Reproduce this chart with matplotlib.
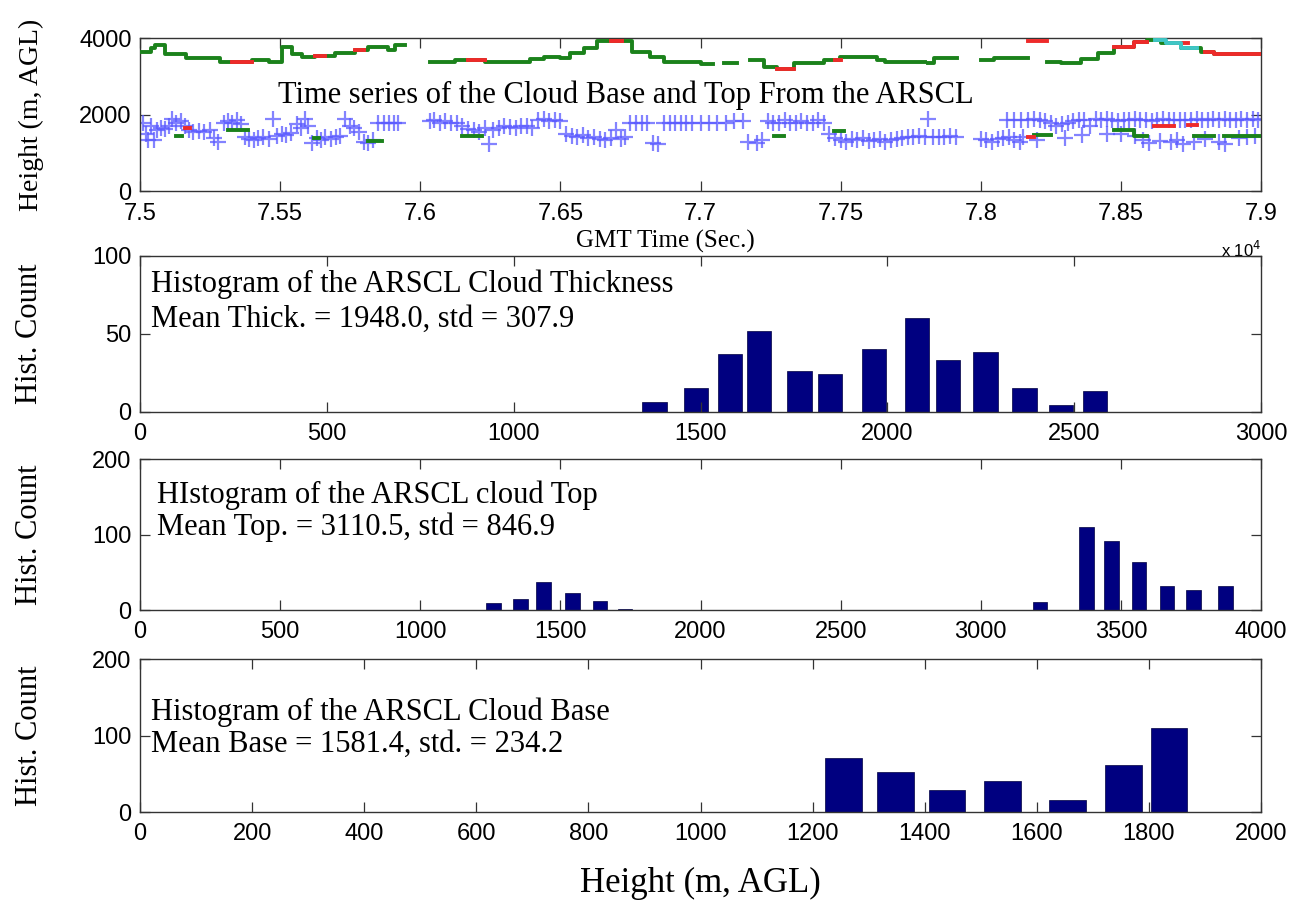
import numpy as np
import matplotlib
matplotlib.use("Agg")
import matplotlib.pyplot as plt
from matplotlib.ticker import FuncFormatter

nan = np.nan

# --------------------------------------
# DATA
# --------------------------------------
# cloud top (green steps), NaN closes a segment
top_t = [75000, 75040, 75055, 75090, 75165, 75285, 75330, 75400, 75460, 75506,
         75541, 75577, 75625, 75696, 75767, 75815, 75886, 75910, 75946,
         76035, 76124, 76231, 76392, 76440, 76500, 76535, 76583, 76630, 76755,
         76821, 76868, 77000, 77045,
         77083, 77130,
         77178, 77225, 77273, 77333, 77440, 77499, 77630, 77660, 77800,
         77810, 77833, 77917,
         78000, 78048, 78167,
         78238, 78286, 78357, 78417, 78476, 78547, 78595, 78643, 78714, 78785,
         78833, 79000]
top_h = [3650, 3740, 3830, 3590, 3480, 3390, 3370, 3435, 3375, 3780,
         3590, 3500, 3550, 3610, 3700, 3780, 3700, 3830, nan,
         3390, 3435, 3390, 3450, 3520, 3480, 3610, 3740, 3920, 3650,
         3520, 3390, 3320, nan,
         3350, nan,
         3435, 3260, 3190, 3350, 3435, 3520, 3435, 3390, nan,
         3350, 3480, nan,
         3435, 3480, nan,
         3390, 3350, 3450, 3610, 3780, 3910, 3960, 3870, 3740, 3650,
         3590, nan]

# red pieces on the cloud top
red_t = [75327, 75400, 75625, 75660, 75767, 75800, 76172, 76231, 76680, 76720,
         77273, 77333, 77480, 77500, 78167, 78238, 78476, 78547, 78595,
         78700, 78740, 78800, 78833, 79000]
red_h = [3370, nan, 3550, nan, 3700, nan, 3435, nan, 3920, nan,
         3190, nan, 3440, nan, 3930, nan, 3780, 3910, nan,
         3870, nan, 3650, 3590, nan]

# cyan pieces on the cloud top
cyan_t = [78620, 78660, 78714, 78770]
cyan_h = [3950, 3870, 3740, nan]

# cloud base (blue +)
base_t = [75010, 75020, 75030, 75040, 75050, 75060, 75075, 75090, 75105, 75115,
          75130, 75145, 75160, 75175, 75190, 75210, 75230, 75250, 75265, 75280,
          75300, 75315, 75330, 75345, 75360, 75375, 75390, 75405, 75420, 75440,
          75460, 75475, 75490, 75505, 75520, 75540, 75560, 75575, 75590, 75600,
          75615, 75630, 75645, 75660, 75680, 75700, 75715, 75730, 75750, 75765,
          75780, 75800, 75815, 75830, 75850, 75870, 75890, 75905, 75920,
          76035, 76050, 76070, 76090, 76110, 76130, 76150, 76170, 76190, 76210,
          76230, 76245, 76260, 76280, 76300, 76320, 76340, 76360, 76380, 76400,
          76420, 76440, 76460, 76480, 76500, 76520, 76540, 76560, 76580, 76600,
          76620, 76640, 76660, 76680, 76700, 76715, 76730, 76750, 76770, 76790,
          76810, 76830, 76850, 76870, 76890, 76910, 76930, 76950, 76970, 77000,
          77030, 77060, 77090, 77120, 77150, 77170, 77200, 77220, 77240, 77260,
          77280, 77300, 77320, 77340, 77360, 77380, 77400, 77420, 77440, 77460,
          77480, 77500, 77520, 77540, 77560, 77580, 77600, 77620, 77640, 77660,
          77680, 77700, 77720, 77740, 77760, 77780, 77800, 77810, 77830, 77850,
          77870, 77890, 77910,
          78000, 78020, 78040, 78060, 78080, 78100, 78120, 78140,
          78095, 78120, 78143, 78170, 78190, 78210, 78230, 78250, 78270, 78290,
          78310, 78330, 78350, 78370, 78390, 78410, 78430, 78450, 78470, 78490,
          78510, 78530, 78550, 78570, 78590, 78610, 78630, 78650, 78670, 78690,
          78710, 78730, 78750, 78770, 78790, 78810, 78830, 78850, 78870, 78890,
          78910, 78930, 78950, 78970, 78990,
          78150, 78200, 78300, 78360, 78450, 78500, 78550, 78580, 78600, 78640,
          78680, 78700, 78720, 78760, 78800, 78850, 78870, 78920, 78950, 78980]
base_h = [1780, 1500, 1350, 1700, 1350, 1600, 1650, 1620, 1700, 1900,
          1800, 1850, 1700, 1600, 1560, 1580, 1550, 1600, 1400, 1300,
          1800, 1850, 1780, 1870, 1750, 1420, 1380, 1350, 1400, 1430,
          1380, 1900, 1450, 1500, 1480, 1520, 1750, 1650, 1900, 1700,
          1260, 1400, 1350, 1430, 1380, 1420, 1450, 1900, 1700, 1650,
          1550, 1300, 1260, 1350, 1780, 1780, 1800, 1780, 1800,
          1850, 1870, 1800, 1830, 1800, 1780, 1700, 1620, 1600, 1560,
          1650, 1250, 1600, 1650, 1700, 1680, 1650, 1700, 1720, 1650,
          1870, 1880, 1850, 1870, 1850, 1500, 1450, 1430, 1470, 1400,
          1420, 1380, 1350, 1400, 1600, 1380, 1420, 1780, 1800, 1780,
          1800, 1270, 1250, 1780, 1780, 1800, 1780, 1780, 1780, 1780,
          1800, 1780, 1780, 1830, 1840, 1300, 1260, 1350, 1850, 1800,
          1780, 1870, 1800, 1780, 1830, 1800, 1780, 1860, 1800, 1500,
          1400, 1350, 1300, 1380, 1350, 1400, 1330, 1350, 1380, 1300,
          1350, 1380, 1400, 1420, 1430, 1450, 1430, 1880, 1420, 1430,
          1430, 1450, 1430,
          1380, 1350, 1300, 1380, 1400, 1430, 1350, 1300,
          1870, 1870, 1870, 1870, 1880, 1870, 1850, 1800, 1700, 1750,
          1800, 1850, 1870, 1860, 1700, 1880, 1870, 1880, 1870, 1850,
          1870, 1870, 1880, 1870, 1870, 1850, 1870, 1880, 1870, 1870,
          1860, 1870, 1870, 1880, 1870, 1870, 1880, 1870, 1880, 1870,
          1870, 1900, 1870, 1880, 1870,
          1430, 1350, 1400, 1480, 1500, 1500, 1450, 1350, 1260, 1320,
          1300, 1350, 1250, 1300, 1380, 1300, 1250, 1400, 1420, 1450]

# lower layer pieces (green) and red pieces near the base
base2_t = [75130, 75150, 75315, 75387, 75620, 75640, 75815, 75863, 76148, 76220,
           77261, 77297, 77475, 77511, 78190, 78250, 78476, 78547, 78595,
           78762, 78833, 78869, 79000]
base2_h = [1440, nan, 1610, nan, 1395, nan, 1305, nan, 1436, nan,
           1436, nan, 1566, nan, 1480, nan, 1610, 1436, nan,
           1453, nan, 1436, nan]
base_red_t = [75160, 75178, 78167, 78190, 78619, 78690, 78738, 78773]
base_red_h = [1650, nan, 1420, nan, 1700, nan, 1740, nan]

# histograms
thick_centers = [1377, 1488, 1579, 1657, 1765, 1846, 1965, 2080, 2163, 2263, 2367, 2464, 2556]
thick_counts = [6, 15, 37, 52, 26, 24, 40, 60, 33, 38, 15, 4, 13]

topc_centers = [1261, 1358, 1440, 1544, 1641, 1730, 3211, 3378, 3467, 3564, 3664, 3759, 3873]
topc_counts = [9, 15, 37, 23, 12, 1, 11, 110, 92, 64, 32, 26, 32]

basec_centers = [1255, 1348, 1440, 1539, 1655, 1755, 1836]
basec_counts = [70, 52, 29, 40, 16, 62, 110]

# --------------------------------------
# STYLE
# --------------------------------------
SERIF = "Liberation Serif"
SANS = "Liberation Sans"
BAR = "#000080"
GREEN = "#1b821b"
RED = "#ee2a2a"
CYAN = "#3fc6c6"
BLUE = "#5a5aff"


def style_axes(ax):
    for sp in ax.spines.values():
        sp.set_linewidth(1.0)
        sp.set_color("#333333")
    ax.tick_params(direction="in", top=True, right=True, length=7,
                   width=0.9, labelsize=17, colors="#333333",
                   labelcolor="black")
    ax.tick_params(axis="x", pad=8)
    ax.tick_params(axis="y", pad=6)
    for lab in ax.get_xticklabels() + ax.get_yticklabels():
        lab.set_fontfamily(SANS)


def add_hist(ax, centers, counts, width, xmax, ymax, yticks, xticks, lines, tx, ty):
    ax.bar(centers, counts, width=width, color=BAR, edgecolor="#000040", linewidth=0.5)
    ax.set_xlim(0, xmax)
    ax.set_ylim(0, ymax)
    ax.set_xticks(xticks)
    ax.set_yticks(yticks)
    ax.set_ylabel("Hist. Count", fontfamily=SERIF, fontsize=22)
    ax.yaxis.set_label_coords(-0.086, 0.5)
    for txt, y in zip(lines, ty):
        ax.text(tx, y, txt, fontfamily=SERIF, fontsize=22, va="center", ha="left")
    style_axes(ax)


# --------------------------------------
# FIGURE
# --------------------------------------
fig = plt.figure(figsize=(13, 9.07), dpi=100)
L, W = 0.1077, 0.8623
ax1 = fig.add_axes([L, 0.7889, W, 0.1689])
ax2 = fig.add_axes([L, 0.5463, W, 0.1715])
ax3 = fig.add_axes([L, 0.3274, W, 0.1665])
ax4 = fig.add_axes([L, 0.1047, W, 0.1687])

# time series panel
ax1.plot(base_t, base_h, "+", color=BLUE, ms=12, mew=1.6, alpha=0.75, zorder=2)
ax1.plot(base2_t, base2_h, drawstyle="steps-post", color=GREEN, lw=2.8, zorder=3)
ax1.plot(base_red_t, base_red_h, drawstyle="steps-post", color=RED, lw=2.8, zorder=3)
ax1.plot(top_t, top_h, drawstyle="steps-post", color=GREEN, lw=2.8, zorder=3)
ax1.plot(red_t, red_h, drawstyle="steps-post", color=RED, lw=2.8, zorder=4)
ax1.plot(cyan_t, cyan_h, drawstyle="steps-post", color=CYAN, lw=2.8, zorder=4)
ax1.set_xlim(75000, 79000)
ax1.set_ylim(0, 4000)
ax1.set_xticks(np.arange(75000, 79001, 500))
ax1.set_yticks([0, 2000, 4000])
ax1.xaxis.set_major_formatter(FuncFormatter(lambda v, p: "%g" % (v / 1e4)))
ax1.set_ylabel("Height (m, AGL)", fontfamily=SERIF, fontsize=20)
ax1.yaxis.set_label_coords(-0.086, 0.5)
ax1.text(75493, 2510, "Time series of the Cloud Base and Top From the ARSCL",
         fontfamily=SERIF, fontsize=22, va="center", ha="left")
# exponent label, partly hidden under the next panel as in the original
ax1.text(1.0, -0.38, r"x 10$^4$", transform=ax1.transAxes, ha="right",
         va="center", fontsize=12, fontfamily=SANS, clip_on=False, zorder=0)
style_axes(ax1)
# x label of the top panel drawn on the figure so the next panel does not hide it
fig.text(0.512, 1 - 241 / 907, "GMT Time (Sec.)", fontfamily=SERIF, fontsize=18,
         ha="center", va="center")

add_hist(ax2, thick_centers, thick_counts, 65, 3000, 100, [0, 50, 100],
         np.arange(0, 3001, 500),
         ["Histogram of the ARSCL Cloud Thickness", "Mean Thick. = 1948.0, std = 307.9"],
         30, [82, 59])
add_hist(ax3, topc_centers, topc_counts, 52, 4000, 200, [0, 100, 200],
         np.arange(0, 4001, 500),
         ["HIstogram of the ARSCL cloud Top", "Mean Top. = 3110.5, std = 846.9"],
         60, [152, 110])
add_hist(ax4, basec_centers, basec_counts, 65, 2000, 200, [0, 100, 200],
         np.arange(0, 2001, 200),
         ["Histogram of the ARSCL Cloud Base", "Mean Base = 1581.4, std. = 234.2"],
         20, [131, 88])
ax4.set_xlabel("Height (m, AGL)", fontfamily=SERIF, fontsize=25)
ax4.xaxis.set_label_coords(0.5, -0.36)

fig.savefig("out.png", dpi=100)
